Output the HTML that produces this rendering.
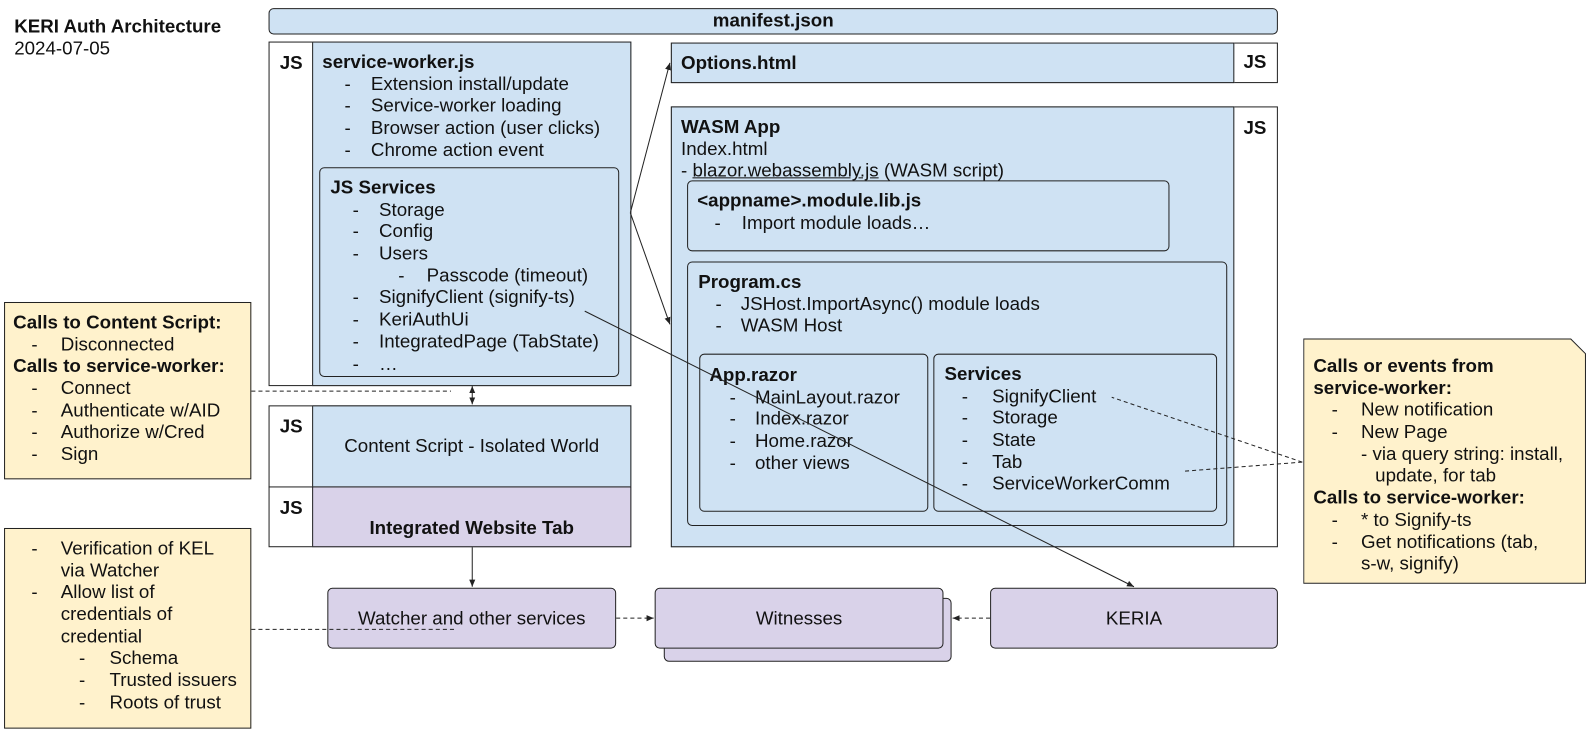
<!DOCTYPE html>
<html><head><meta charset="utf-8"><style>
*{margin:0;padding:0;box-sizing:border-box}
body{width:1589px;height:730px;background:#fff;position:relative;overflow:hidden;font-family:"Liberation Sans",Arial,sans-serif;font-size:18.5px;color:#111}
#w{position:absolute;left:0;top:0;width:1568px;height:720px;transform:scale(1.0134);transform-origin:0 0}
.b{position:absolute;border:1px solid #222}
.bl{background:#cfe2f3}.pu{background:#d9d2e9}.ye{background:#fff2cc}
.r{border-radius:5px}
.t{position:absolute;white-space:nowrap;line-height:21.7px;margin-top:-2px}
.t div{position:relative;height:21.7px}
.t .h{font-weight:bold}
.d{position:absolute}
.js{position:absolute;font-weight:bold;white-space:nowrap;margin-top:-2px}
</style></head><body><div id="w">
<div class="t" style="left:14px;top:17px"><div class="h">KERI Auth Architecture</div><div>2024-07-05</div></div>

<div class="b bl r" style="left:265px;top:8px;width:996px;height:26px;text-align:center;font-weight:bold;line-height:22px">manifest.json</div>

<div class="b" style="left:265px;top:41px;width:358px;height:340px;background:#fff"></div>
<div class="b bl" style="left:308px;top:41px;width:315px;height:340px"></div>
<div class="js" style="left:276px;top:53px">JS</div>
<div class="t" style="left:318px;top:52px">
<div class="h">service-worker.js</div>
<div><span class="d" style="left:22px">-</span><span style="padding-left:48px">Extension install/update</span></div>
<div><span class="d" style="left:22px">-</span><span style="padding-left:48px">Service-worker loading</span></div>
<div><span class="d" style="left:22px">-</span><span style="padding-left:48px">Browser action (user clicks)</span></div>
<div><span class="d" style="left:22px">-</span><span style="padding-left:48px">Chrome action event</span></div>
</div>
<div class="b bl r" style="left:315px;top:165px;width:296px;height:207px"></div>
<div class="t" style="left:326px;top:176px">
<div class="h">JS Services</div>
<div><span class="d" style="left:22px">-</span><span style="padding-left:48px">Storage</span></div>
<div><span class="d" style="left:22px">-</span><span style="padding-left:48px">Config</span></div>
<div><span class="d" style="left:22px">-</span><span style="padding-left:48px">Users</span></div>
<div><span class="d" style="left:67px">-</span><span style="padding-left:95px">Passcode (timeout)</span></div>
<div><span class="d" style="left:22px">-</span><span style="padding-left:48px">SignifyClient (signify-ts)</span></div>
<div><span class="d" style="left:22px">-</span><span style="padding-left:48px">KeriAuthUi</span></div>
<div><span class="d" style="left:22px">-</span><span style="padding-left:48px">IntegratedPage (TabState)</span></div>
<div><span class="d" style="left:22px">-</span><span style="padding-left:48px">…</span></div>
</div>

<div class="b" style="left:265px;top:400px;width:358px;height:140px;background:#fff"></div>
<div class="b bl" style="left:308px;top:400px;width:315px;height:81px;text-align:center;line-height:78px">Content Script - Isolated World</div>
<div class="b pu" style="left:308px;top:480px;width:315px;height:60px;text-align:center;font-weight:bold;padding-top:30px;line-height:20px">Integrated Website Tab</div>
<div class="b" style="left:265px;top:480px;width:44px;height:1px;border-width:1px 0 0 0"></div>
<div class="js" style="left:276px;top:412px">JS</div>
<div class="js" style="left:276px;top:492px">JS</div>

<div class="b" style="left:662px;top:42px;width:599px;height:40px;background:#fff"></div>
<div class="b bl" style="left:662px;top:42px;width:556px;height:40px;font-weight:bold;padding-left:9px;line-height:38px">Options.html</div>
<div class="js" style="left:1227px;top:52px">JS</div>

<div class="b" style="left:662px;top:105px;width:599px;height:435px;background:#fff"></div>
<div class="b bl" style="left:662px;top:105px;width:556px;height:435px"></div>
<div class="js" style="left:1227px;top:117px">JS</div>
<div class="t" style="left:672px;top:116px">
<div class="h">WASM App</div>
<div>Index.html</div>
<div>- <span style="text-decoration:underline">blazor.webassembly.js</span> (WASM script)</div>
</div>
<div class="b bl r" style="left:678px;top:178px;width:476px;height:70px"></div>
<div class="t" style="left:688px;top:189px">
<div class="h">&lt;appname&gt;.module.lib.js</div>
<div><span class="d" style="left:17px">-</span><span style="padding-left:44px">Import module loads…</span></div>
</div>
<div class="b bl r" style="left:678px;top:258px;width:533px;height:261px"></div>
<div class="t" style="left:689px;top:269px">
<div class="h">Program.cs</div>
<div><span class="d" style="left:17px">-</span><span style="padding-left:42px">JSHost.ImportAsync() module loads</span></div>
<div><span class="d" style="left:17px">-</span><span style="padding-left:42px">WASM Host</span></div>
</div>
<div class="b bl r" style="left:690px;top:349px;width:226px;height:156px"></div>
<div class="t" style="left:700px;top:361px">
<div class="h">App.razor</div>
<div><span class="d" style="left:20px">-</span><span style="padding-left:45px">MainLayout.razor</span></div>
<div><span class="d" style="left:20px">-</span><span style="padding-left:45px">Index.razor</span></div>
<div><span class="d" style="left:20px">-</span><span style="padding-left:45px">Home.razor</span></div>
<div><span class="d" style="left:20px">-</span><span style="padding-left:45px">other views</span></div>
</div>
<div class="b bl r" style="left:921px;top:349px;width:280px;height:156px"></div>
<div class="t" style="left:932px;top:360px">
<div class="h">Services</div>
<div><span class="d" style="left:17px">-</span><span style="padding-left:47px">SignifyClient</span></div>
<div><span class="d" style="left:17px">-</span><span style="padding-left:47px">Storage</span></div>
<div><span class="d" style="left:17px">-</span><span style="padding-left:47px">State</span></div>
<div><span class="d" style="left:17px">-</span><span style="padding-left:47px">Tab</span></div>
<div><span class="d" style="left:17px">-</span><span style="padding-left:47px">ServiceWorkerComm</span></div>
</div>

<div class="b pu r" style="left:323px;top:580px;width:285px;height:60px;text-align:center;line-height:58px">Watcher and other services</div>
<div class="b pu r" style="left:655px;top:590px;width:284px;height:63px"></div>
<div class="b pu r" style="left:646px;top:580px;width:285px;height:60px;text-align:center;line-height:58px">Witnesses</div>
<div class="b pu r" style="left:977px;top:580px;width:284px;height:60px;text-align:center;line-height:58px">KERIA</div>

<div class="b ye" style="left:4px;top:298px;width:244px;height:175px"></div>
<div class="t" style="left:13px;top:309px">
<div class="h">Calls to Content Script:</div>
<div><span class="d" style="left:18px">-</span><span style="padding-left:47px">Disconnected</span></div>
<div class="h">Calls to service-worker:</div>
<div><span class="d" style="left:18px">-</span><span style="padding-left:47px">Connect</span></div>
<div><span class="d" style="left:18px">-</span><span style="padding-left:47px">Authenticate w/AID</span></div>
<div><span class="d" style="left:18px">-</span><span style="padding-left:47px">Authorize w/Cred</span></div>
<div><span class="d" style="left:18px">-</span><span style="padding-left:47px">Sign</span></div>
</div>
<div class="b ye" style="left:4px;top:521px;width:244px;height:198px"></div>
<div class="t" style="left:13px;top:532px">
<div><span class="d" style="left:18px">-</span><span style="padding-left:47px">Verification of KEL</span></div>
<div><span style="padding-left:47px">via Watcher</span></div>
<div><span class="d" style="left:18px">-</span><span style="padding-left:47px">Allow list of</span></div>
<div><span style="padding-left:47px">credentials of</span></div>
<div><span style="padding-left:47px">credential</span></div>
<div><span class="d" style="left:65px">-</span><span style="padding-left:95px">Schema</span></div>
<div><span class="d" style="left:65px">-</span><span style="padding-left:95px">Trusted issuers</span></div>
<div><span class="d" style="left:65px">-</span><span style="padding-left:95px">Roots of trust</span></div>
</div>
<svg style="position:absolute;left:1286px;top:334px" width="280" height="243"><path d="M0.5 0.5 H264 L278.5 15 V241.5 H0.5 Z" fill="#fff2cc" stroke="#222"/></svg>
<div class="t" style="left:1296px;top:352px">
<div class="h">Calls or events from</div>
<div class="h">service-worker:</div>
<div><span class="d" style="left:18px">-</span><span style="padding-left:47px">New notification</span></div>
<div><span class="d" style="left:18px">-</span><span style="padding-left:47px">New Page</span></div>
<div><span style="padding-left:47px">- via query string: install,</span></div>
<div><span style="padding-left:61px">update, for tab</span></div>
<div class="h">Calls to service-worker:</div>
<div><span class="d" style="left:18px">-</span><span style="padding-left:47px">* to Signify-ts</span></div>
<div><span class="d" style="left:18px">-</span><span style="padding-left:47px">Get notifications (tab,</span></div>
<div><span style="padding-left:47px">s-w, signify)</span></div>
</div>

<svg style="position:absolute;left:0;top:0" width="1568" height="720">
<defs><marker id="a" markerWidth="8" markerHeight="8" refX="7" refY="4" orient="auto" markerUnits="userSpaceOnUse"><path d="M0 1 L7 4 L0 7 Z" fill="#222"/></marker>
<marker id="s" markerWidth="8" markerHeight="8" refX="1" refY="4" orient="auto" markerUnits="userSpaceOnUse"><path d="M8 1 L1 4 L8 7 Z" fill="#222"/></marker></defs>
<g stroke="#222" stroke-width="1" fill="none">
<line x1="622" y1="210" x2="661" y2="62" marker-end="url(#a)"/>
<line x1="622" y1="210" x2="661" y2="320" marker-end="url(#a)"/>
<line x1="577" y1="307" x2="1119" y2="579" marker-end="url(#a)"/>
<line x1="466" y1="381" x2="466" y2="399" marker-start="url(#s)" marker-end="url(#a)"/>
<line x1="466" y1="540" x2="466" y2="579" marker-end="url(#a)"/>
<g stroke-dasharray="4,3">
<line x1="608" y1="610" x2="645" y2="610" marker-end="url(#a)"/>
<line x1="977" y1="610" x2="940" y2="610" marker-end="url(#a)"/>
<line x1="248" y1="386" x2="445" y2="386"/>
<line x1="248" y1="621" x2="448" y2="621"/>
<line x1="1285" y1="456" x2="1097" y2="392"/>
<line x1="1285" y1="456" x2="1168" y2="465"/>
</g></g></svg>
</div></body></html>
